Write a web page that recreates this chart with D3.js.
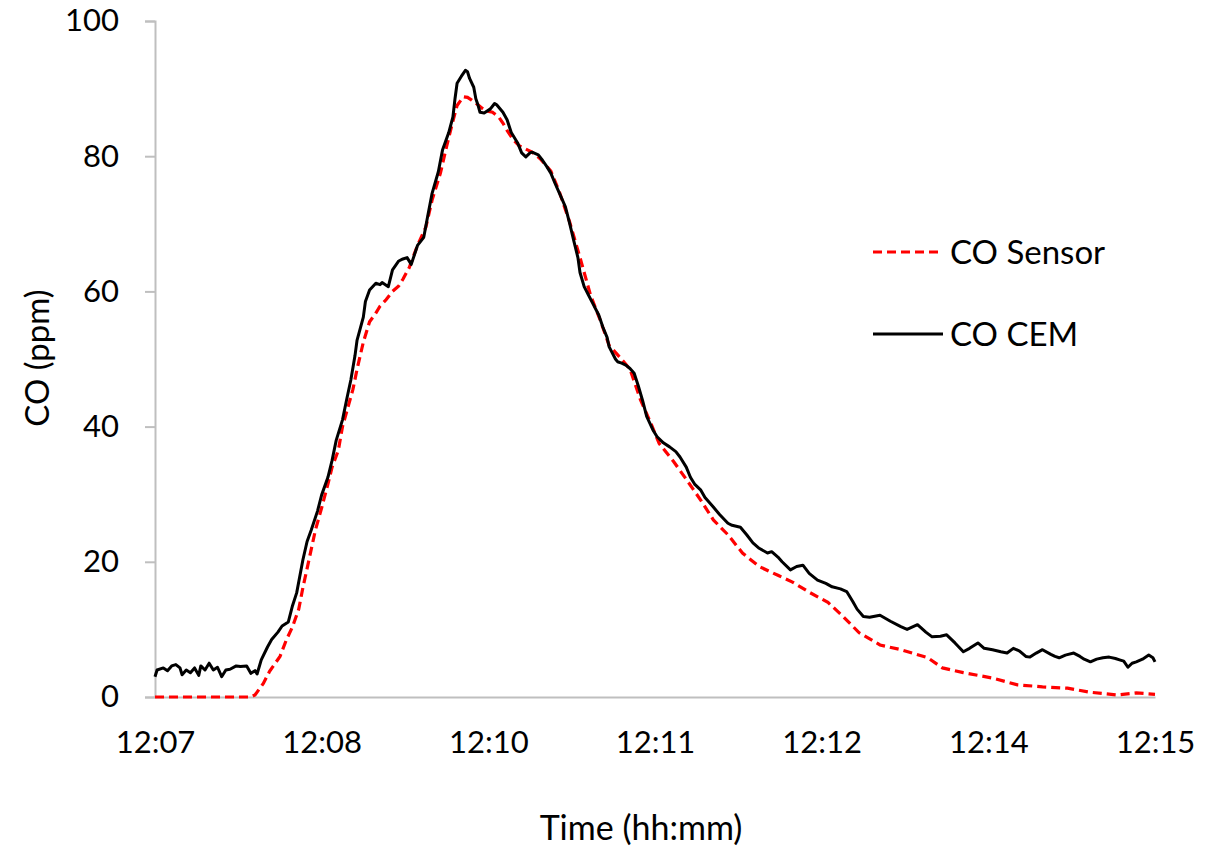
<!DOCTYPE html>
<html><head><meta charset="utf-8">
<script src="https://cdn.jsdelivr.net/npm/d3@7"></script>
<style>
body{margin:0;background:#fff;}
text{font-family:Lato,"Open Sans",sans-serif;fill:#000;}
</style></head>
<body><svg id="c" width="1230" height="848"></svg>
<script>
// ---- data (seconds after 12:07:30, CO ppm) ----
const startTime = "12:07:30";
const cemSec = [0,1,4,6,8,10,12,13,15,17,19,21,22,24,26,28,30,32,34,36,39,41,44,46,48,49,51,54,56,59,61,64,66,68,71,73,75,78,80,83,85,87,90,92,94,96,97,100,101,103,106,108,109,112,114,117,119,121,123,126,129,131,133,136,138,141,143,144,145,147,149,150,151,153,154,155,156,158,161,163,164,167,169,171,174,176,178,180,181,184,186,188,190,192,194,197,199,201,203,204,206,208,210,213,215,217,218,221,222,224,226,228,230,232,234,236,239,241,244,247,250,252,255,257,259,262,264,268,271,275,277,281,284,287,290,294,296,299,301,305,308,311,314,318,322,325,329,332,335,337,340,343,348,353,358,361,366,370,373,377,380,384,388,391,395,398,402,406,409,412,415,418,420,423,426,430,432,434,437,441,444,446,449,452,455,458,461,463,465,467,469,471,474,477,479,480];
const cemPpm = [3.0,4.0,4.3,3.9,4.6,4.8,4.3,3.3,4.0,3.6,4.3,3.2,4.6,4.0,5.0,4.0,4.4,3.0,4.0,4.1,4.6,4.5,4.6,3.5,3.9,3.4,5.5,7.4,8.5,9.6,10.5,11.1,13.5,15.4,20.3,23.0,24.7,27.5,29.9,32.5,35.0,38.0,41.0,44.0,46.9,50.5,52.8,56.2,58.5,60.2,61.2,61.0,61.3,60.7,63.2,64.5,64.8,65.0,64.0,66.8,68.0,71.3,74.5,77.7,80.9,83.5,85.8,88.5,90.8,91.8,92.7,92.5,91.5,90.2,88.5,87.6,86.5,86.4,87.0,87.8,87.6,86.5,85.4,83.5,82.0,80.5,79.9,80.5,80.6,80.2,79.4,78.5,77.5,76.0,74.6,72.5,70.1,67.5,65.0,62.8,60.7,59.5,58.3,56.5,54.7,53.2,51.8,50.0,49.6,49.4,49.1,48.6,47.9,46.0,43.9,41.5,39.5,38.5,37.6,37.0,36.3,35.5,34.0,32.5,31.5,30.6,29.5,28.1,27.0,25.7,25.4,25.1,24.0,22.8,22.0,21.3,21.5,20.7,20.0,18.8,19.3,19.5,18.3,17.3,16.8,16.3,16.0,15.6,14.1,13.0,11.9,11.8,12.1,11.2,10.4,10.0,10.7,9.6,8.9,9.0,9.2,8.0,6.7,7.2,8.0,7.2,7.0,6.7,6.5,7.2,6.8,6.0,5.9,6.5,7.0,6.3,6.0,5.8,6.2,6.5,6.0,5.6,5.2,5.6,5.8,5.9,5.7,5.5,5.3,4.4,5.0,5.2,5.6,6.2,5.8,5.2];
const sensorSec = [0,22,46,48,52,55,60,63,66,69,71,73,77,80,83,85,88,90,93,95,97,100,103,106,108,111,114,117,119,122,126,130,133,137,140,143,145,148,150,152,155,157,159,162,165,167,169,172,175,179,181,185,190,194,199,204,209,214,218,223,228,233,238,242,249,255,262,268,275,282,290,299,306,314,323,330,338,348,358,371,378,388,402,414,426,438,449,462,471,480];
const sensorPpm = [0,0,0,0.3,2.0,3.8,6.0,8.4,10.4,13.0,16.2,19.0,24.7,28.0,31.5,34.0,36.5,40.0,43.3,45.5,48.5,52.5,55.5,56.8,57.8,58.8,60.0,60.8,61.8,63.5,66.8,69.5,73.5,77.5,81.5,85.2,87.5,88.8,88.7,88.3,87.6,87.1,86.7,86.5,85.8,84.9,83.8,82.4,81.5,80.9,80.6,79.6,77.8,74.8,70.3,65.0,59.5,55.5,52.0,50.3,48.5,44.0,40.5,37.5,34.8,32.2,29.1,26.2,24.0,21.3,19.3,18.0,17.0,15.5,14.0,12.0,9.5,7.7,7.0,5.8,4.3,3.6,2.8,1.8,1.5,1.3,0.7,0.3,0.6,0.4];
const seriesNames = ["CO Sensor","CO CEM"];
const yTicks = [0,20,40,60,80,100];
const xTickSec = [0,80,160,240,320,400,480];
const xTickLabels = ["12:07","12:08","12:10","12:11","12:12","12:14","12:15"];

// ---- drawing ----
const svg = d3.select("#c");
const parse = d3.timeParse("%H:%M:%S");
const t0 = parse(startTime);
const toDate = s => new Date(t0.getTime() + s*1000);
const L = 155, R = 1155, T = 21, B = 697;
const x = d3.scaleTime().domain([toDate(0), toDate(480)]).range([L, R]);
const y = d3.scaleLinear().domain([0,100]).range([B, T]);
const axisColor = "#bfbfbf";
const tickFont = 31, labelFont = 33;

// y axis
const ya = svg.append("g").attr("transform",`translate(${L},0)`)
  .call(d3.axisLeft(y).tickValues(yTicks).tickSize(10).tickPadding(26));
ya.select(".domain").attr("stroke",axisColor).attr("stroke-width",2);
ya.selectAll(".tick line").attr("stroke",axisColor).attr("stroke-width",2);
ya.selectAll(".tick text").attr("font-size",tickFont).attr("font-family","Lato");

// x axis
const xa = svg.append("g").attr("transform",`translate(0,${B})`)
  .call(d3.axisBottom(x).tickValues(xTickSec.map(toDate)).tickSize(0).tickPadding(34)
    .tickFormat((d,i)=>xTickLabels[i]));
xa.select(".domain").attr("stroke",axisColor).attr("stroke-width",2);
xa.selectAll(".tick text").attr("font-size",tickFont).attr("font-family","Lato");

// titles
svg.append("text").attr("x",641).attr("y",840).attr("text-anchor","middle")
  .attr("font-size",labelFont+1).text("Time (hh:mm)");
svg.append("text").attr("transform","translate(49,358) rotate(-90)").attr("text-anchor","middle")
  .attr("font-size",labelFont).text("CO (ppm)");

const line = d3.line().x(d=>x(toDate(d[0]))).y(d=>y(d[1]));
const sensor = sensorSec.map((s,i)=>[s,sensorPpm[i]]);
const cem = cemSec.map((s,i)=>[s,cemPpm[i]]);

svg.append("path").datum(sensor).attr("d",line).attr("fill","none")
  .attr("stroke","#ff0000").attr("stroke-width",3.2).attr("stroke-dasharray","9,5");
svg.append("path").datum(cem).attr("d",line).attr("fill","none")
  .attr("stroke","#000").attr("stroke-width",3).attr("stroke-linejoin","round");

// legend
const leg = svg.append("g");
const legY = [252, 334];
const legStyle = [{c:"#ff0000",d:"9,5"},{c:"#000",d:null}];
seriesNames.forEach((n,i)=>{
  leg.append("line").attr("x1",873).attr("x2",943).attr("y1",legY[i]).attr("y2",legY[i])
    .attr("stroke",legStyle[i].c).attr("stroke-width",3.2).attr("stroke-dasharray",legStyle[i].d);
  leg.append("text").attr("x",950).attr("y",legY[i]).attr("dy","0.36em").attr("font-size",labelFont).text(n);
});
</script></body></html>
